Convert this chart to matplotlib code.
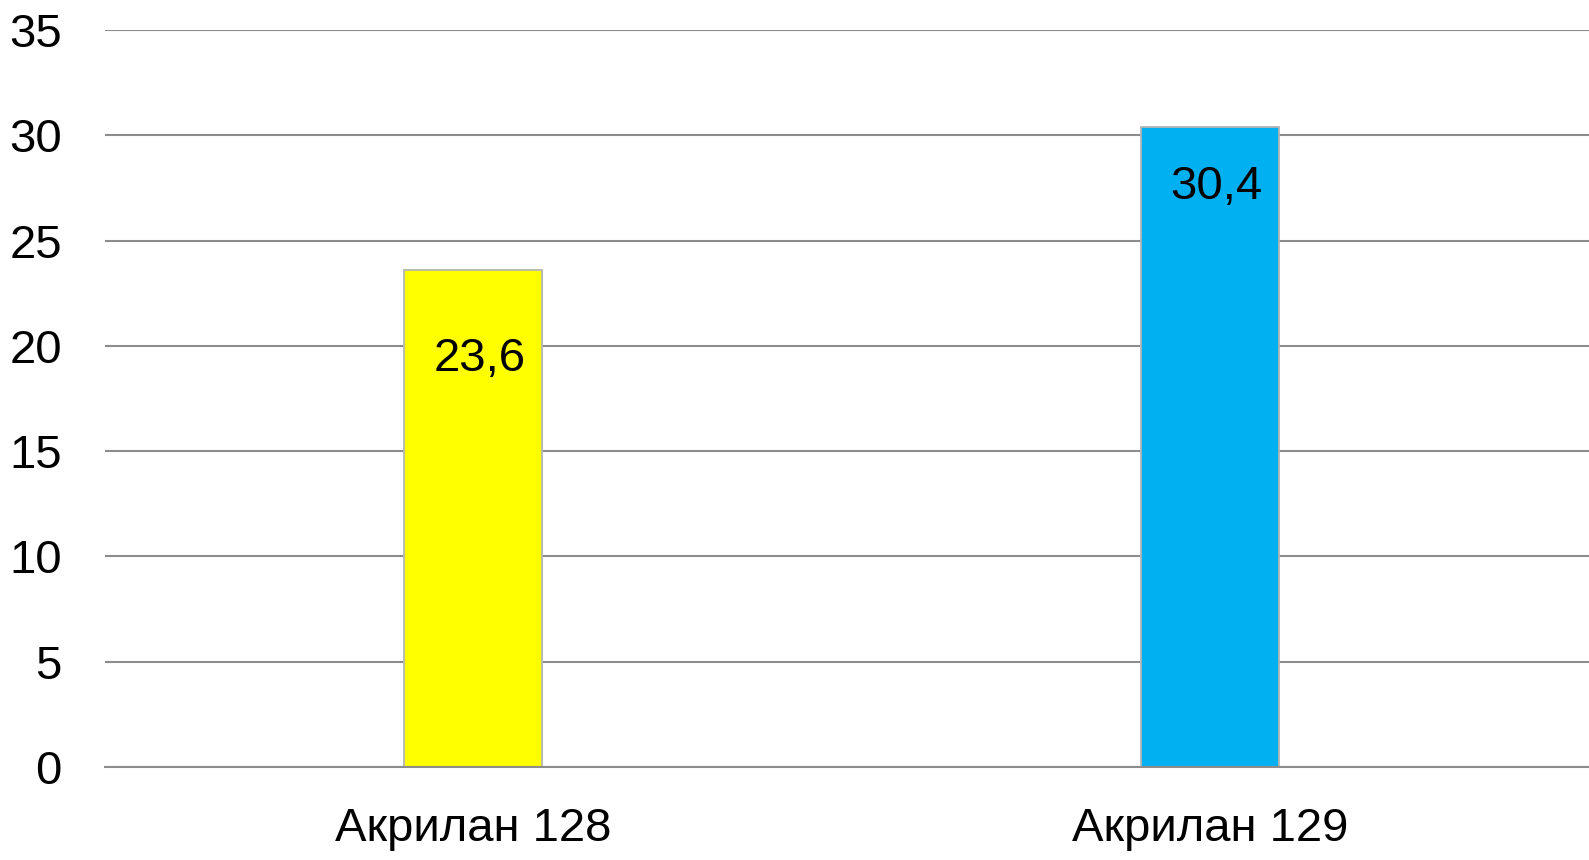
import matplotlib
matplotlib.use("Agg")
import matplotlib.pyplot as plt

categories = ["Акрилан 128", "Акрилан 129"]
values = [23.6, 30.4]
value_labels = ["23,6", "30,4"]
bar_colors = ["#FFFF00", "#00B0F0"]
yticks = [0, 5, 10, 15, 20, 25, 30, 35]

# label vertical placement below bar top (data units), style only
label_drop = [4.23, 2.86]

plt.rcParams['font.family'] = ['Liberation Sans', 'DejaVu Sans']

fig = plt.figure(figsize=(15.89, 8.60), dpi=100)
ax = fig.add_axes([105/1589, (860-767)/860, 1 - 105/1589, (767-30)/860])

x = list(range(len(categories)))
ax.bar(x, values, width=0.1875, color=bar_colors, edgecolor="#B4B4B4",
       linewidth=1.3, zorder=3)

for xi, v, lab, d in zip(x, values, value_labels, label_drop):
    ax.text(xi + 0.009, v - d, lab, ha="center", va="center", fontsize=34,
            color="black", zorder=4)

ax.set_ylim(0, 35)
ax.set_xlim(-0.4993, 1.514)
ax.set_yticks(yticks)
ax.set_yticklabels([str(t) for t in yticks])
ax.set_xticks(x)
ax.set_xticklabels(categories)

ax.tick_params(axis="y", length=0, pad=31, labelsize=34)
ax.tick_params(axis="x", length=0, pad=29, labelsize=34)

for s in ax.spines.values():
    s.set_visible(False)
ax.yaxis.grid(True, color="#8C8C8C", linewidth=1.5, zorder=0)
ax.set_axisbelow(True)
ax.axhline(0, color="#8C8C8C", linewidth=1.5, zorder=5, clip_on=False)

fig.savefig("out.png", dpi=100)
